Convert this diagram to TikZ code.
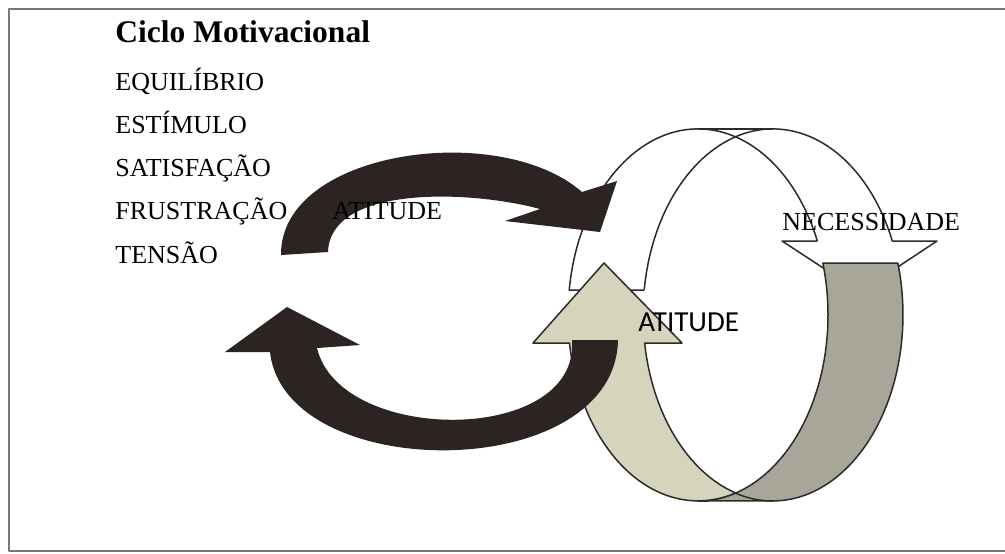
\documentclass[tikz,border=0pt]{standalone}
\usepackage{fontspec}
\setmainfont{Liberation Serif}
\newfontfamily\calibrifont{Carlito}
\definecolor{arrowdark}{RGB}{44,35,35}
\definecolor{beige}{RGB}{215,212,190}
\definecolor{bandgray}{RGB}{167,166,152}
\definecolor{ringline}{RGB}{45,42,42}
\definecolor{framegray}{RGB}{120,120,120}

\begin{document}
\begin{tikzpicture}[x=0.5pt,y=-0.5pt,line join=round,
    word/.style={anchor=base west,inner sep=0pt,font=\fontsize{13}{15}\selectfont},
    ring/.style={draw=ringline,line width=0.75pt},
    rad/.style={x radius=130,y radius=186}]
\useasboundingbox (0,0) rectangle (1005,553);
\draw[framegray,line width=0.8pt] (1005,9) -- (9,9) -- (9,551) -- (1005,551);

\fill[white] (569.2,290) arc[start angle=187.7,end angle=270,rad] -- (773,129)
    arc[start angle=270,end angle=336.6,rad] -- (937,241) -- (860,292) -- (782,241) -- (817.3,241)
    arc[start angle=336.6,end angle=286.8,rad] arc[start angle=253.2,end angle=187.7,rad] -- cycle;
\draw[ring] (644.2,290) -- (569.2,290) arc[start angle=187.7,end angle=336.6,rad];
\draw[ring] (644.2,290) arc[start angle=187.7,end angle=336.6,rad] -- (937,241) -- (860,292) -- (782,241) -- (817.3,241);
\draw[ring] (698,129) -- (773,129);

\filldraw[ring,fill=bandgray] (897.8,263) arc[start angle=-16.2,end angle=90,rad] -- (698,501)
    arc[start angle=90,end angle=-16.2,rad] -- cycle;
\draw[ring] (735.5,493.1) arc[start angle=106.8,end angle=90,rad];

\filldraw[ring,fill=beige] (569.5,343) arc[start angle=171.3,end angle=73.2,rad]
    arc[start angle=106.8,end angle=171.3,rad] -- (682,343) -- (604,263) -- (533,343) -- cycle;

\fill[arrowdark] (281,255) .. controls (280,150) and (500,120) .. (582,192) -- (617,181) -- (600,232)
    -- (505,221) -- (540,209) .. controls (470,190) and (330,185) .. (328,252) -- cycle;
\fill[arrowdark] (618,340) .. controls (615,485) and (285,485) .. (270,352) -- (225,352) -- (287,307)
    -- (360,345) -- (317,348) .. controls (340,445) and (580,445) .. (572,340) -- cycle;

\draw (115,42) node[word,font=\bfseries\fontsize{15.75}{18}\selectfont] (title) {Ciclo Motivacional};
\foreach \w [count=\i] in {EQUILÍBRIO,ESTÍMULO,SATISFAÇÃO,FRUSTRAÇÃO\hspace{22.5pt}ATITUDE,TENSÃO}{
\draw (115,{90+43.3*(\i-1)}) node[word] (item\i) {\w};
}
\draw (782,230) node[word] (necessidade) {NECESSIDADE};
\draw (638,331) node[word,font=\calibrifont\fontsize{14.5}{17}\selectfont] (atitude) {ATITUDE};
\end{tikzpicture}
\end{document}
